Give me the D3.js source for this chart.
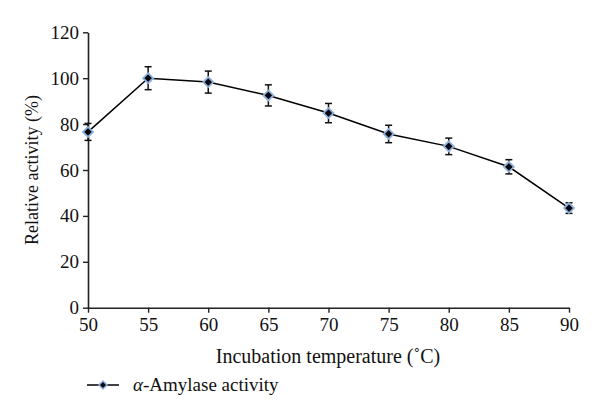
<!DOCTYPE html>
<html><head><meta charset="utf-8">
<script src="https://cdn.jsdelivr.net/npm/d3@7"></script>
<style>body{margin:0;background:#fff}svg{display:block}</style>
</head><body>
<svg id="c" width="600" height="418"></svg>
<script>
const temps = [50, 55, 60, 65, 70, 75, 80, 85, 90];
const activity = [76.6, 100, 98.3, 92.5, 84.8, 75.7, 70.3, 61.4, 43.4];
const errors = [3.7, 5, 4.8, 4.6, 4.2, 3.8, 3.6, 3.1, 2.3];
const xTicks = [50, 55, 60, 65, 70, 75, 80, 85, 90];
const yTicks = [0, 20, 40, 60, 80, 100, 120];

const svg = d3.select('#c');
const font = '"Liberation Serif", "Times New Roman", serif';
const x = d3.scaleLinear().domain([50, 90]).range([88, 569]);
const y = d3.scaleLinear().domain([0, 120]).range([307.7, 32.3]);

const xAxis = svg.append('g').attr('transform', 'translate(0,307.7)')
  .call(d3.axisBottom(x).tickValues(xTicks).tickSize(5).tickSizeOuter(0).tickPadding(5));
const yAxis = svg.append('g').attr('transform', 'translate(88,0)')
  .call(d3.axisLeft(y).tickValues(yTicks).tickSize(5).tickSizeOuter(0).tickPadding(4));
[xAxis, yAxis].forEach(a => {
  a.select('.domain').attr('stroke', '#222').attr('stroke-width', 1.6);
  a.selectAll('.tick line').attr('stroke', '#222').attr('stroke-width', 1.4);
  a.selectAll('.tick text').attr('fill', '#111').style('font-family', font).style('font-size', '19px');
});

const line = d3.line().x((d, i) => x(temps[i])).y(d => y(d));
svg.append('path').datum(activity).attr('d', line)
  .attr('fill', 'none').attr('stroke', '#000').attr('stroke-width', 1.5);

const eb = svg.append('g').attr('stroke', '#111').attr('stroke-width', 1.5);
activity.forEach((v, i) => {
  const cx = x(temps[i]);
  eb.append('line').attr('x1', cx).attr('x2', cx).attr('y1', y(v + errors[i])).attr('y2', y(v - errors[i]));
  eb.append('line').attr('x1', cx - 3.5).attr('x2', cx + 3.5).attr('y1', y(v + errors[i])).attr('y2', y(v + errors[i]));
  eb.append('line').attr('x1', cx - 3.5).attr('x2', cx + 3.5).attr('y1', y(v - errors[i])).attr('y2', y(v - errors[i]));
});

const dia = r => `M0,${-r}L${r},0L0,${r}L${-r},0Z`;
svg.append('g').selectAll('path').data(activity).join('path')
  .attr('d', dia(5))
  .attr('transform', (d, i) => `translate(${x(temps[i])},${y(d)})`)
  .attr('fill', '#050510').attr('stroke', '#8fb0d8').attr('stroke-width', 1.8);

svg.append('text').attr('transform', 'translate(38,170) rotate(-90)')
  .attr('text-anchor', 'middle').style('font-family', font).style('font-size', '18px').attr('fill', '#111')
  .text('Relative activity (%)');
svg.append('text').attr('x', 328).attr('y', 363)
  .attr('text-anchor', 'middle').style('font-family', font).style('font-size', '20px').attr('fill', '#111')
  .text('Incubation temperature (˚C)');

const lg = svg.append('g');
lg.append('line').attr('x1', 87).attr('x2', 119).attr('y1', 385).attr('y2', 385).attr('stroke', '#000').attr('stroke-width', 1.5);
lg.append('path').attr('d', dia(4)).attr('transform', 'translate(103,385)')
  .attr('fill', '#050510').attr('stroke', '#8fb0d8').attr('stroke-width', 1.5);
const lt = lg.append('text').attr('x', 133).attr('y', 391).style('font-family', font).style('font-size', '19px').attr('fill', '#111');
lt.append('tspan').style('font-style', 'italic').text('α');
lt.append('tspan').text('-Amylase activity');
</script>
</body></html>
